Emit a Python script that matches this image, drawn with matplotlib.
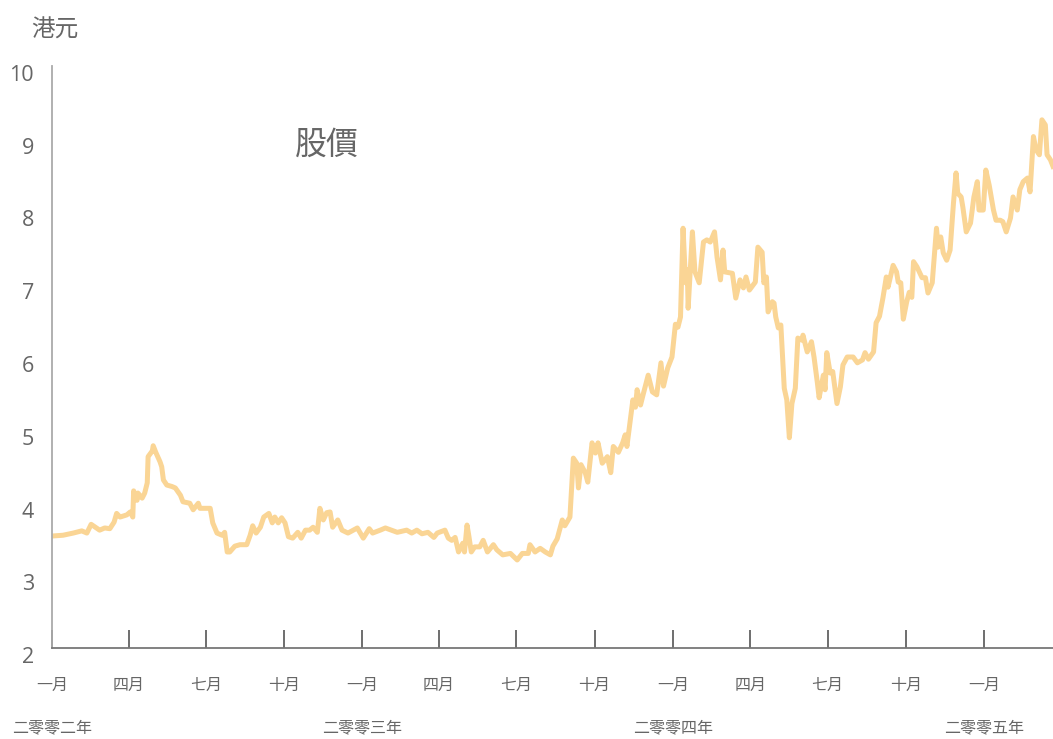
import matplotlib
matplotlib.use('Agg')
import matplotlib.pyplot as plt
import matplotlib.transforms as mtransforms
import pandas as pd

# day offsets from 2002-01-01 and share price (HKD)
days = [1, 13, 25, 35, 41, 46, 51, 56, 62, 68, 73, 76, 80, 88, 92, 95, 96, 100, 101, 106,
        109, 112, 113, 118, 119, 122, 127, 129, 131, 135, 141, 145, 151, 154, 162, 166, 172, 174, 186, 189,
        194, 200, 203, 206, 209, 215, 221, 229, 233, 236, 240, 245, 249, 255, 259, 262, 266, 270, 274, 278,
        283, 289, 293, 298, 303, 307, 312, 315, 319, 323, 327, 330, 336, 341, 348, 359, 366, 373, 377, 386,
        392, 406, 417, 423, 429, 435, 442, 449, 453, 462, 466, 470, 474, 478, 483, 485, 488, 490, 493, 497,
        503, 507, 512, 519, 523, 530, 539, 547, 553, 560, 562, 568, 574, 580, 586, 589, 594, 600, 603, 609,
        613, 617, 619, 622, 627, 630, 635, 639, 642, 647, 653, 657, 660, 666, 671, 674, 676, 680, 683, 686,
        688, 692, 695, 701, 706, 711, 716, 719, 724, 729, 733, 736, 739, 742, 745, 747, 748, 753, 756, 761,
        766, 770, 774, 779, 782, 786, 789, 791, 800, 804, 809, 813, 816, 820, 827, 830, 835, 837, 840, 842,
        847, 849, 851, 854, 857, 861, 864, 867, 870, 874, 877, 882, 883, 888, 893, 896, 900, 902, 907, 909,
        911, 915, 918, 923, 927, 930, 935, 942, 947, 953, 956, 960, 966, 969, 973, 977, 981, 983, 989, 993,
        995, 998, 1001, 1005, 1008, 1011, 1013, 1017, 1023, 1027, 1030, 1035, 1040, 1042, 1045, 1048, 1052, 1056, 1060, 1063,
        1065, 1069, 1071, 1075, 1080, 1084, 1088, 1090, 1095, 1098, 1102, 1107, 1110, 1115, 1118, 1122, 1127, 1130, 1135, 1138,
        1142, 1147, 1150, 1154, 1157, 1161, 1164, 1168, 1170, 1174, 1177]
price = [3.54, 3.55, 3.58, 3.61, 3.58, 3.70, 3.66, 3.62, 3.65, 3.64, 3.73, 3.85, 3.80, 3.83, 3.87, 3.80, 4.16, 4.03, 4.13, 4.06,
         4.13, 4.27, 4.63, 4.71, 4.78, 4.69, 4.56, 4.49, 4.31, 4.24, 4.22, 4.20, 4.10, 4.01, 3.99, 3.90, 3.99, 3.92, 3.92, 3.72,
         3.58, 3.55, 3.59, 3.32, 3.32, 3.40, 3.42, 3.42, 3.55, 3.68, 3.58, 3.66, 3.80, 3.85, 3.72, 3.80, 3.72, 3.79, 3.72, 3.53,
         3.51, 3.59, 3.51, 3.62, 3.62, 3.66, 3.59, 3.92, 3.76, 3.86, 3.87, 3.66, 3.76, 3.62, 3.58, 3.65, 3.51, 3.64, 3.58, 3.62,
         3.65, 3.59, 3.62, 3.58, 3.62, 3.57, 3.59, 3.52, 3.58, 3.62, 3.51, 3.48, 3.52, 3.32, 3.44, 3.32, 3.69, 3.55, 3.32, 3.39,
         3.39, 3.48, 3.32, 3.42, 3.35, 3.28, 3.30, 3.21, 3.30, 3.30, 3.42, 3.32, 3.37, 3.32, 3.28, 3.40, 3.50, 3.76, 3.68, 3.80,
         4.61, 4.54, 4.20, 4.52, 4.41, 4.28, 4.82, 4.68, 4.82, 4.54, 4.63, 4.41, 4.77, 4.69, 4.82, 4.93, 4.77, 5.13, 5.41, 5.31,
         5.55, 5.34, 5.48, 5.75, 5.52, 5.48, 5.92, 5.60, 5.85, 6.00, 6.45, 6.41, 6.55, 7.77, 7.02, 7.20, 6.67, 7.72, 7.17, 7.02,
         7.58, 7.61, 7.58, 7.72, 7.37, 7.06, 7.47, 7.17, 7.15, 6.81, 7.06, 6.95, 7.10, 6.92, 7.03, 7.51, 7.44, 7.02, 7.10, 6.62,
         6.76, 6.74, 6.55, 6.40, 6.44, 5.57, 5.41, 4.89, 5.36, 5.57, 6.26, 6.23, 6.30, 6.07, 6.21, 6.00, 5.64, 5.44, 5.75, 5.55,
         6.06, 5.78, 5.80, 5.36, 5.59, 5.89, 6.00, 6.00, 5.92, 5.96, 6.06, 5.97, 6.07, 6.47, 6.56, 6.81, 7.10, 6.96, 7.26, 7.17,
         7.03, 7.02, 6.52, 6.76, 6.89, 6.82, 7.31, 7.24, 7.09, 7.09, 6.88, 7.02, 7.77, 7.51, 7.65, 7.43, 7.33, 7.47, 8.12, 8.53,
         8.25, 8.20, 8.06, 7.72, 7.84, 8.20, 8.41, 8.02, 8.02, 8.57, 8.36, 8.02, 7.88, 7.88, 7.86, 7.72, 7.91, 8.20, 8.02, 8.30,
         8.41, 8.46, 8.27, 9.03, 8.85, 8.78, 9.26, 9.19, 8.78, 8.71, 8.62]

start = pd.Timestamp('2002-01-01')
end_day = 1177
month_names = {1: '一月', 4: '四月', 7: '七月', 10: '十月'}
year_names = {2002: '二零零二年', 2003: '二零零三年', 2004: '二零零四年', 2005: '二零零五年'}
yticks = [2, 3, 4, 5, 6, 7, 8, 9, 10]

cjk = ['Noto Sans CJK TC', 'DejaVu Sans']
grey = '#666666'

dates = start + pd.to_timedelta(days, unit='D')

fig = plt.figure(figsize=(10.53, 7.39), dpi=100)
ax = fig.add_axes([52 / 1053, 91 / 739, 1 - 52 / 1053, 582 / 739])

ax.plot(dates, price, color='#FAD595', lw=3.6, solid_joinstyle='round')

ax.set_xlim(start, start + pd.Timedelta(days=end_day))
ax.set_ylim(2, 10)

for s in ['top', 'right']:
    ax.spines[s].set_visible(False)
ax.spines['left'].set_color('#aaaaaa')
ax.spines['left'].set_linewidth(1.3)
ax.spines['bottom'].set_color('#777777')
ax.spines['bottom'].set_linewidth(1.3)

# quarterly ticks
qticks = pd.date_range('2002-01-01', '2005-01-01', freq='QS')
ax.set_xticks(qticks)
ax.set_xticklabels([month_names[d.month] for d in qticks], family=cjk, fontsize=11.5, color=grey)
ax.tick_params(axis='x', direction='in', length=13, width=1.2, color='#555555', pad=21)

for d in qticks:
    if d.month == 1:
        ax.text(d, -0.137, year_names[d.year], transform=ax.get_xaxis_transform(),
                ha='center', va='center', family=cjk, fontsize=11.5, color=grey)

ax.set_yticks(yticks)
ax.set_yticklabels([str(v) for v in yticks], family='Open Sans', fontsize=15.5, color=grey)
ax.tick_params(axis='y', length=0, pad=13)
shift = mtransforms.ScaledTranslation(0, -7 / 100, fig.dpi_scale_trans)
for lab in ax.get_yticklabels():
    lab.set_transform(lab.get_transform() + shift)

ax.text(0.003, 1.062, '港元', transform=ax.transAxes, ha='center', va='center',
        family=cjk, fontsize=17, color=grey)
ax.text(0.275, 0.864, '股價', transform=ax.transAxes, ha='center', va='center',
        family=cjk, fontsize=23, color=grey)

fig.savefig('out.png', dpi=100)
